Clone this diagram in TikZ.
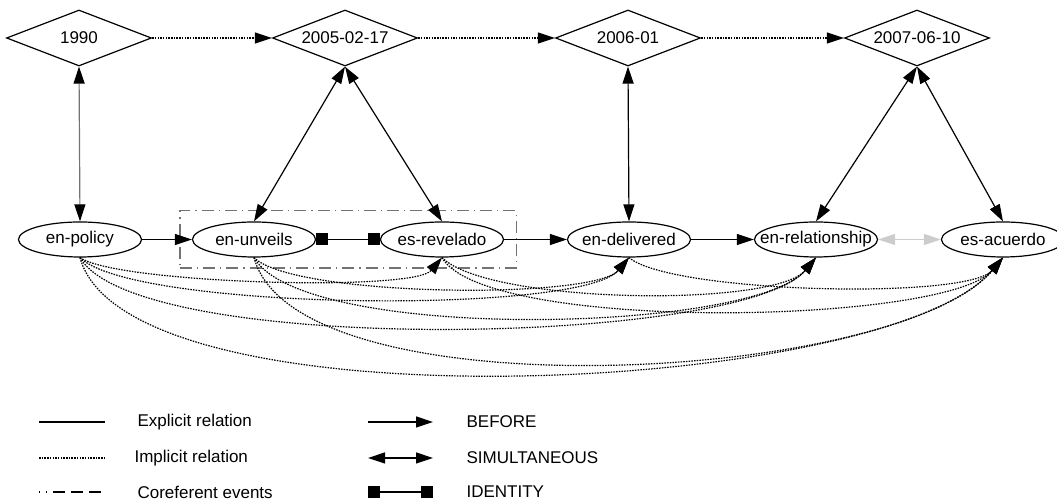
\documentclass[tikz,border=0pt]{standalone}
\usepackage{fontspec}
\setmainfont{Liberation Sans}
\usetikzlibrary{shapes.geometric,arrows.meta,fit}

\begin{document}
\begin{tikzpicture}[x=0.5pt,y=0.5pt,line width=0.6pt,
  font=\fontsize{8.5}{10}\selectfont,
  head/.tip={Triangle[length=8.5pt,width=5.5pt]},
  sq/.tip={Square[length=6pt,width=6pt]},
  date/.style={draw,diamond,aspect=2.6,minimum width=72.5pt,minimum height=28pt,inner sep=0pt},
  event/.style={draw,ellipse,minimum width=61.5pt,minimum height=17.5pt,inner xsep=-7pt,inner ysep=0pt},
  key/.style={anchor=west,inner sep=0pt},
  before/.style={-head},
  simul/.style={head-head},
  ident/.style={sq-sq},
  implicit/.style={dash pattern=on 0.75pt off 0.6pt},
  coref/.style={draw=black!55,dash pattern=on 6pt off 2.5pt on 0.6pt off 2.5pt}]
\useasboundingbox (0,0) rectangle (1057,502);
% time expressions
\node[date] (d1990) at (79,464) {1990};
\node[date] (d2005) at (345,464) {2005-02-17};
\node[date] (d2006) at (628,464) {2006-01};
\node[date] (d2007) at (917,464) {2007-06-10};
% events
\node[event] (policy) at (80,262.5) {en-policy};
\node[event] (unveils) at (254,262.5) {en-unveils};
\node[event] (revelado) at (442,262.5) {es-revelado};
\node[event] (delivered) at (629,262.5) {en-delivered};
\node[event] (relationship) at (816,262.5) {en-relationship};
\node[event] (acuerdo) at (1003,262.5) {es-acuerdo};
\node[coref,fit=(unveils)(revelado),inner xsep=6pt,inner ysep=5.25pt] (corefbox) {};
% timeline
\draw[implicit,before] (d1990.east) -- (d2005.west);
\draw[implicit,before] (d2005.east) -- (d2006.west);
\draw[implicit,before] (d2006.east) -- (d2007.west);
\draw[draw=black!55,{Triangle[length=8.5pt,width=5.5pt,color=black]}-{Triangle[length=8.5pt,width=5.5pt,color=black]}] (d1990.south) -- (policy.north);
\draw[simul] (d2005.south) -- (unveils.north);
\draw[simul] (d2005.south) -- (revelado.north);
\draw[simul] (d2006.south) -- (delivered.north);
\draw[simul] (d2007.south) -- (relationship.north);
\draw[simul] (d2007.south) -- (acuerdo.north);
% explicit relations
\draw[before] (policy) -- (unveils);
\draw[ident] (unveils) -- (revelado);
\draw[before] (revelado) -- (delivered);
\draw[before] (delivered) -- (relationship);
\draw[simul,draw=black!20] (relationship) -- (acuerdo);
% implicit relations
\foreach \a/\b/\o/\l in {policy/revelado/-35/0.32, policy/delivered/-45/0.35,
    policy/relationship/-60/0.4, policy/acuerdo/-75/0.5,
    unveils/delivered/-45/0.38, unveils/relationship/-60/0.45, unveils/acuerdo/-75/0.56,
    revelado/relationship/-45/0.45, revelado/acuerdo/-60/0.4, delivered/acuerdo/-40/0.38}
  \draw[implicit,before] (\a.south) to[out=\o,in=-130,looseness=\l] (\b.south);
% legend
\coordinate (ka) at (39,80);  \coordinate (kb) at (105,80);
\coordinate (kc) at (39,44);  \coordinate (kd) at (105,44);
\coordinate (ke) at (39,10);  \coordinate (kf) at (105,10);
\draw (ka) -- (kb);
\draw[implicit] (kc) -- (kd);
\draw[coref,draw=black,dash pattern=on 0.6pt off 3pt on 0.6pt off 3pt on 6pt off 3pt on 6pt off 3pt on 6pt off 3pt] (ke) -- (kf);
\node[key] (explicit) at (137,80) {Explicit relation};
\node[key] (implicitkey) at (134,44) {Implicit relation};
\node[key] (coreferent) at (137,10) {Coreferent events};
\coordinate (ra) at (368,80);  \coordinate (rb) at (433,80);
\coordinate (rc) at (368,44);  \coordinate (rd) at (433,44);
\coordinate (re) at (368,10);  \coordinate (rf) at (433,10);
\draw[before] (ra) -- (rb);
\draw[simul] (rc) -- (rd);
\draw[ident] (re) -- (rf);
\node[key] (beforekey) at (466,80) {BEFORE};
\node[key] (simulkey) at (466,44) {SIMULTANEOUS};
\node[key] (identkey) at (466,10) {IDENTITY};
\end{tikzpicture}
\end{document}
